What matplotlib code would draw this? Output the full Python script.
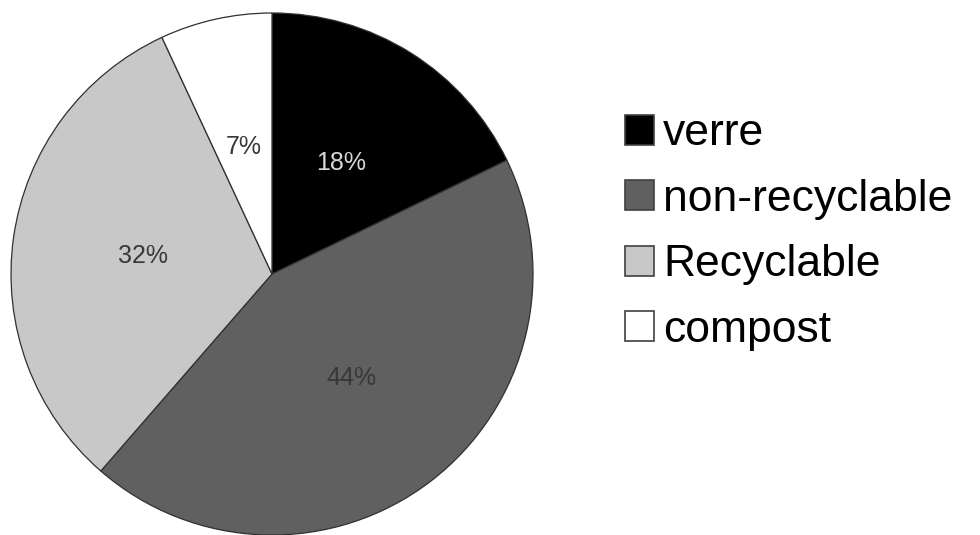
import matplotlib
matplotlib.use('Agg')
import matplotlib.pyplot as plt
from matplotlib.patches import Patch

# data
categories = ['verre', 'non-recyclable', 'Recyclable', 'compost']
shares = [18, 44, 32, 7]
colours = ['#000000', '#606060', '#c8c8c8', '#ffffff']
label_colours = ['#d8d8d8', '#383838', '#383838', '#383838']

W, H = 980, 535
fig = plt.figure(figsize=(W / 100, H / 100), dpi=100)

# pie centre ~ (272, 274) px, radius ~261 px
cx, cy, r = 272, 274, 261
ax = fig.add_axes([(cx - r) / W, (H - cy - r) / H, 2 * r / W, 2 * r / H])
wedges, texts, autotexts = ax.pie(
    shares, colors=colours, startangle=90, counterclock=False,
    autopct='%.0f%%', pctdistance=0.5,
    wedgeprops=dict(edgecolor='#303030', linewidth=0.9),
    textprops=dict(fontsize=18, family='Liberation Sans'))
for t, c in zip(autotexts, label_colours):
    t.set_color(c)
ax.set_xlim(-1, 1)
ax.set_ylim(-1, 1)
ax.set_aspect('equal')
ax.axis('off')

handles = [Patch(facecolor=c, edgecolor='#404040', linewidth=1.2) for c in colours]
fig.legend(handles, categories, loc='center left',
           bbox_to_anchor=(625 / W, 1 - 232 / H),
           frameon=False, borderpad=0, borderaxespad=0,
           handlelength=0.66, handleheight=0.66, handletextpad=0.2,
           labelspacing=0.55,
           prop=dict(family='Liberation Sans', size=32))

fig.savefig('out.png', dpi=100)
